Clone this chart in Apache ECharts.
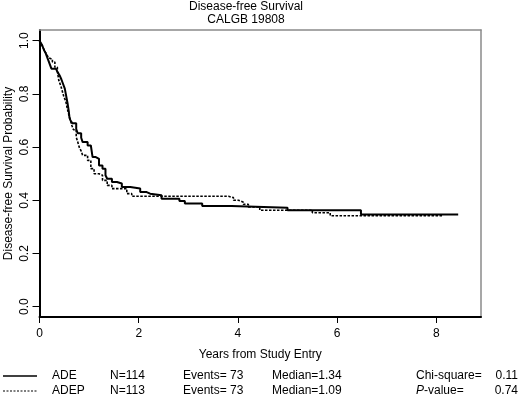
<!DOCTYPE html>
<html>
<head>
<meta charset="utf-8">
<title>Disease-free Survival CALGB 19808</title>
<script src="https://cdn.jsdelivr.net/npm/echarts@6/dist/echarts.min.js"></script>
<style>
html, body { margin: 0; padding: 0; background: #fff; }
#chart { width: 520px; height: 398px; }
</style>
</head>
<body>
<div id="chart"></div>
<script>
// KM step points (years, survival)
var adeTimes = [0, 0.03, 0.06, 0.09, 0.12, 0.15, 0.18, 0.21, 0.24, 0.33, 0.37, 0.41, 0.44, 0.47, 0.51, 0.53, 0.55, 0.57, 0.59, 0.605, 0.625, 0.66, 0.74, 0.77, 0.84, 0.87, 0.97, 1.035, 1.07, 1.135, 1.2, 1.27, 1.33, 1.365, 1.46, 1.56, 1.66, 1.83, 2.03, 2.16, 2.23, 2.46, 2.82, 2.93, 3.28, 3.87, 5.0, 6.48, 8.44];
var adeSurv  = [1.0, 0.99, 0.98, 0.965, 0.955, 0.94, 0.925, 0.91, 0.895, 0.89, 0.88, 0.868, 0.855, 0.84, 0.82, 0.8, 0.78, 0.76, 0.735, 0.71, 0.7, 0.69, 0.668, 0.652, 0.635, 0.619, 0.606, 0.6, 0.5625, 0.556, 0.531, 0.519, 0.494, 0.481, 0.469, 0.463, 0.45, 0.444, 0.431, 0.425, 0.419, 0.406, 0.397, 0.388, 0.379, 0.372, 0.3625, 0.347, 0.347];

var adepTimes = [0, 0.03, 0.07, 0.11, 0.15, 0.19, 0.23, 0.26, 0.31, 0.36, 0.39, 0.43, 0.46, 0.49, 0.53, 0.56, 0.59, 0.625, 0.655, 0.685, 0.74, 0.77, 0.8, 0.84, 0.87, 0.97, 1.035, 1.1, 1.2, 1.27, 1.365, 1.46, 1.76, 1.86, 3.81, 3.91, 4.01, 4.11, 4.21, 4.44, 5.5, 5.86, 8.14];
var adepSurv  = [1.0, 0.99, 0.975, 0.96, 0.945, 0.935, 0.93, 0.92, 0.9, 0.885, 0.85, 0.83, 0.81, 0.79, 0.772, 0.745, 0.722, 0.7, 0.68, 0.665, 0.6375, 0.62, 0.6, 0.585, 0.569, 0.55, 0.519, 0.5, 0.494, 0.475, 0.456, 0.444, 0.425, 0.415, 0.41, 0.4, 0.393, 0.385, 0.375, 0.3625, 0.353, 0.342, 0.342];

var groupNames = ['ADE', 'ADEP'];
var groupN = ['N=114', 'N=113'];
var groupEvents = ['Events= 73', 'Events= 73'];
var groupMedian = ['Median=1.34', 'Median=1.09'];
var testLabels = ['Chi-square=', '-value='];
var testValues = ['0.11', '0.74'];

var xTickInterval = 2;
var yTickInterval = 0.2;

var FONT = '"Liberation Sans", Arial, sans-serif';

function pairs(t, s) {
  var out = [];
  for (var i = 0; i < t.length; i++) out.push([t[i], s[i]]);
  return out;
}

var chart = echarts.init(document.getElementById('chart'));

// legend table under the plot
var legendGraphics = [];
var rowY = [376, 391];
for (var r = 0; r < 2; r++) {
  legendGraphics.push({
    type: 'line', silent: true,
    shape: { x1: 3, y1: rowY[r], x2: 37, y2: rowY[r] },
    style: { stroke: '#000', lineWidth: r === 0 ? 1.6 : 1.2, lineDash: r === 0 ? null : [2, 1.5] }
  });
  var cols = [[52, groupNames[r]], [110, groupN[r]], [183, groupEvents[r]], [272, groupMedian[r]]];
  cols.forEach(function (c) {
    legendGraphics.push({
      type: 'text', x: c[0], y: rowY[r],
      style: { text: c[1], fill: '#000', font: '12px ' + FONT, verticalAlign: 'middle' }
    });
  });
  legendGraphics.push({
    type: 'text', x: 518, y: rowY[r],
    style: { text: testValues[r], fill: '#000', font: '12px ' + FONT, align: 'right', verticalAlign: 'middle' }
  });
}
legendGraphics.push({
  type: 'text', x: 416, y: rowY[0],
  style: { text: testLabels[0], fill: '#000', font: '12px ' + FONT, verticalAlign: 'middle' }
});
legendGraphics.push({
  type: 'text', x: 416, y: rowY[1],
  style: {
    text: '{i|P}' + testLabels[1], fill: '#000', font: '12px ' + FONT, verticalAlign: 'middle',
    rich: { i: { fontStyle: 'italic', fontSize: 12, fontFamily: FONT, fill: '#000' } }
  }
});

var option = {
  animation: false,
  backgroundColor: '#fff',
  textStyle: { fontFamily: FONT },
  title: {
    text: 'Disease-free Survival\nCALGB 19808',
    left: 246, top: 0, textAlign: 'center', padding: 0,
    textStyle: { fontSize: 12, fontWeight: 'normal', color: '#000', lineHeight: 13, fontFamily: FONT }
  },
  grid: [
    { left: 39.5, right: 39, top: 40.7, bottom: 91.3, containLabel: false, outerBoundsMode: 'none' },  // data area (0..1)
    { left: 39.5, right: 39, top: 30, bottom: 81, containLabel: false, outerBoundsMode: 'none' }       // frame
  ],
  xAxis: [
    { gridIndex: 0, type: 'value', min: 0, max: 8.9, show: false },
    {
      gridIndex: 1, type: 'value', min: 0, max: 8.9, interval: xTickInterval, position: 'bottom',
      name: 'Years from Study Entry', nameLocation: 'middle', nameGap: 32,
      nameTextStyle: { fontSize: 12, color: '#000' },
      axisLine: { onZero: false, lineStyle: { color: '#000', width: 2 } },
      axisTick: { inside: false, length: 6, lineStyle: { color: '#000', width: 1 } },
      axisLabel: { margin: 11, fontSize: 12, color: '#000', showMaxLabel: false },
      splitLine: { show: false }
    },
    {
      gridIndex: 1, type: 'value', min: 0, max: 8.9, position: 'top',
      axisLine: { show: true, onZero: false, lineStyle: { color: '#8a8a8a', width: 1.5 } },
      axisTick: { show: false }, axisLabel: { show: false }, splitLine: { show: false }
    }
  ],
  yAxis: [
    {
      gridIndex: 0, type: 'value', min: 0, max: 1, interval: yTickInterval,
      axisLine: { show: false, onZero: false },
      axisTick: { show: true, inside: false, length: 7, lineStyle: { color: '#000', width: 1 } },
      axisLabel: {
        rotate: 90, margin: 9, fontSize: 12, color: '#000',
        formatter: function (v) { return v.toFixed(1); }
      },
      splitLine: { show: false }
    },
    {
      gridIndex: 1, type: 'value', min: 0, max: 1, position: 'left',
      name: 'Disease-free Survival Probability', nameLocation: 'middle', nameGap: 25,
      nameTextStyle: { fontSize: 12, color: '#000' },
      axisLine: { onZero: false, lineStyle: { color: '#000', width: 2 } },
      axisTick: { show: false }, axisLabel: { show: false }, splitLine: { show: false }
    },
    {
      gridIndex: 1, type: 'value', min: 0, max: 1, position: 'right',
      axisLine: { show: true, onZero: false, lineStyle: { color: '#8a8a8a', width: 1.5 } },
      axisTick: { show: false }, axisLabel: { show: false }, splitLine: { show: false }
    }
  ],
  series: [
    {
      name: 'ADE', type: 'line', xAxisIndex: 0, yAxisIndex: 0, step: 'end',
      showSymbol: false, symbol: 'none', silent: true,
      lineStyle: { color: '#000', width: 2 },
      data: pairs(adeTimes, adeSurv)
    },
    {
      name: 'ADEP', type: 'line', xAxisIndex: 0, yAxisIndex: 0, step: 'end',
      showSymbol: false, symbol: 'none', silent: true,
      lineStyle: { color: '#000', width: 1.6, type: [2.5, 1.5] },
      data: pairs(adepTimes, adepSurv)
    }
  ],
  graphic: legendGraphics
};

chart.setOption(option);
</script>
</body>
</html>
